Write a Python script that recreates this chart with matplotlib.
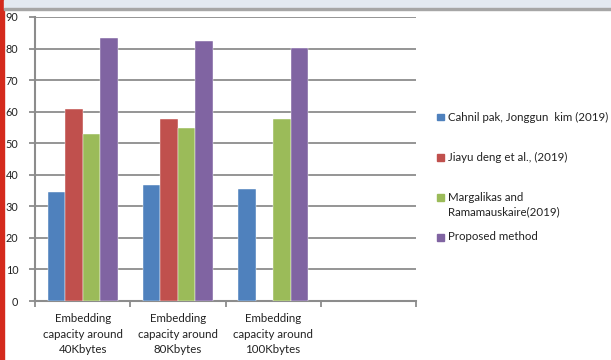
import numpy as np
import matplotlib
matplotlib.use("Agg")
import matplotlib.pyplot as plt
from matplotlib.patches import Rectangle

# data
categories = ["Embedding\ncapacity around\n40Kbytes",
              "Embedding\ncapacity around\n80Kbytes",
              "Embedding\ncapacity around\n100Kbytes",
              ""]
series_names = ["Cahnil pak, Jonggun  kim (2019)",
                "Jiayu deng et al., (2019)",
                "Margalikas and\nRamamauskaire(2019)",
                "Proposed method"]
cahnil = [34.5, 36.8, 35.4, np.nan]
jiayu = [60.8, 57.8, np.nan, np.nan]
margalikas = [52.8, 54.9, 57.8, np.nan]
proposed = [83.2, 82.3, 80.1, np.nan]
colors = ["#4F81BD", "#C0504D", "#9BBB59", "#8064A2"]

plt.rcParams['font.family'] = ['Lato', 'DejaVu Sans']

W, H = 611, 360
fig = plt.figure(figsize=(W / 100, H / 100), dpi=100)
ax = fig.add_axes([35 / W, 59 / H, 381 / W, 284 / H])

x = np.arange(len(categories))
w = 0.184
all_series = [cahnil, jiayu, margalikas, proposed]
for i, vals in enumerate(all_series):
    ax.bar(x + (i - 1.5) * w, vals, w, color=colors[i], label=series_names[i],
           zorder=3, edgecolor="white", linewidth=0.3)

ax.set_xlim(-0.5, len(categories) - 0.5)
ax.set_ylim(0, 90)
ax.set_yticks(range(0, 91, 10))
ax.grid(axis="y", color="#8c8c8c", linewidth=1.3, zorder=0)
ax.set_axisbelow(True)

ax.set_xticks(x)
ax.set_xticklabels(categories, fontsize=8.3, linespacing=1.45, color="#222222")
ax.set_xticks(np.arange(-0.5, len(categories), 1), minor=True)
ax.tick_params(axis="x", which="major", length=0, pad=9)
ax.tick_params(axis="x", which="minor", length=4, width=1.3, color="#8c8c8c")
ax.tick_params(axis="y", length=4, width=1.3, color="#8c8c8c", labelsize=7.8,
               pad=8, labelcolor="#222222")

for s in ["top", "right"]:
    ax.spines[s].set_visible(False)
for s in ["left", "bottom"]:
    ax.spines[s].set_color("#8c8c8c")
    ax.spines[s].set_linewidth(1.5)

# legend laid out by hand, like the spreadsheet one (entries not evenly spaced)
legend_y = [117, 157, 204.5, 237]  # pixel rows from the top
for name, c, yp in zip(series_names, colors, legend_y):
    n_lines = name.count("\n") + 1
    sq_y = yp - (n_lines - 1) * 7.5
    fig.patches.append(Rectangle((437 / W, 1 - (sq_y + 3.5) / H), 6.5 / W, 6.5 / H,
                                 transform=fig.transFigure, color=c))
    fig.text(448 / W, 1 - yp / H, name, fontsize=8.3, color="#222222",
             va="center", ha="left", linespacing=1.3)

# window decorations around the screenshot
fig.patches.append(Rectangle((0, 0), 4 / W, 1, transform=fig.transFigure,
                             color="#d42a1c", zorder=0))
fig.patches.append(Rectangle((4 / W, 1 - 8 / H), 1, 8 / H,
                             transform=fig.transFigure, color="#e3e9f1", zorder=0))
fig.patches.append(Rectangle((4 / W, 1 - 10 / H), 1, 2 / H,
                             transform=fig.transFigure, color="#a6a6a6", zorder=0))

fig.savefig("out.png", dpi=100)
